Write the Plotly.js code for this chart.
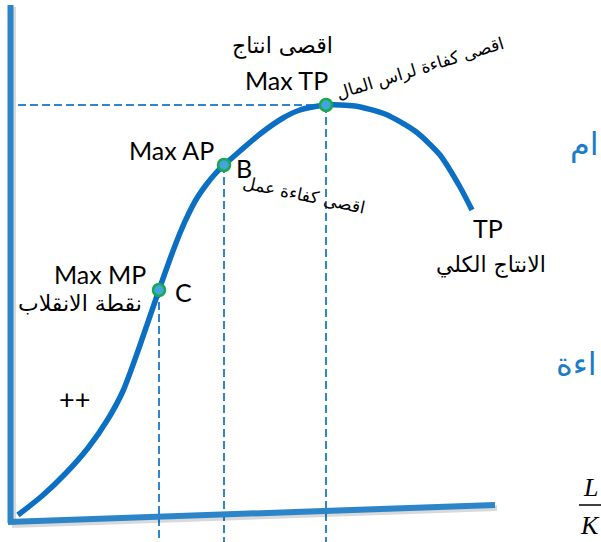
<!DOCTYPE html>
<html>
<head>
<meta charset="utf-8">
<script src="https://cdn.plot.ly/plotly-3.0.1.min.js"></script>
<style>html,body{margin:0;padding:0;background:#fff;}#chart{width:601px;height:542px;}</style>
</head>
<body>
<div id="chart"></div>
<script>
// Total product curve (labour units vs total product)
const laborL = [0.4, 2.8, 5.2, 7.4, 9.4, 10.9, 12.5, 14.5, 15.6, 16.6, 17.4, 18.3, 19.2, 20.1, 21.0, 22.6, 24.6, 26.9, 28.6, 31.2, 34.1, 37.1, 40.1, 42.6, 44.6, 45.8];
const totalTP = [0.3, 2.2, 4.5, 7.0, 9.9, 12.7, 17.0, 22.8, 25.9, 28.5, 30.3, 32.0, 33.3, 34.4, 35.3, 36.7, 38.4, 40.0, 40.8, 41.3, 41.2, 40.4, 38.7, 36.3, 33.1, 30.8];

// Key points: C (max MP / inflection), B (max AP), Max TP
const keyNames = ["C", "B", "Max TP"];
const keyL = [14.5, 21.0, 31.2];
const keyTP = [22.8, 35.3, 41.3];

const AX = "#2c85c9", CURVE = "#0b6fc4", DASH = "#2e86d1";
const FONT = "Lato, 'DejaVu Sans', sans-serif";
const ARFONT = "'DejaVu Sans', sans-serif";

const traces = [];
// dashed verticals from each key point down past the axis
keyL.forEach((x, i) => {
  traces.push({x: [x, x], y: [keyTP[i], -2.4], mode: "lines",
    line: {color: DASH, width: 2, dash: "8px,4px"}, hoverinfo: "skip", showlegend: false});
});
// dashed horizontal at max TP
traces.push({x: [0.4, keyL[2]], y: [keyTP[2], keyTP[2]], mode: "lines",
  line: {color: DASH, width: 2, dash: "8px,4px"}, hoverinfo: "skip", showlegend: false});
// TP curve
traces.push({x: laborL, y: totalTP, mode: "lines",
  line: {color: CURVE, width: 5.5, shape: "spline", smoothing: 0.7}, hoverinfo: "skip", showlegend: false});
// key points
traces.push({x: keyL, y: keyTP, mode: "markers", text: keyNames,
  marker: {size: 12, color: "#41a5e0", line: {color: "#1aa84a", width: 2.5}}, hoverinfo: "text", showlegend: false});

function ann(text, x, y, size, opts) {
  return Object.assign({text: text, x: x, y: y, xref: "x", yref: "y", showarrow: false,
    font: {family: FONT, size: size, color: "#000"}}, opts || {});
}
function arf(size, color) { return {family: ARFONT, size: size, color: color || "#000"}; }

const annotations = [
  ann("اقصى انتاج", 26.8, 47.2, 22, {font: arf(22)}),
  ann("Max TP", 27.2, 43.8, 25),
  ann("اقصى كفاءة لراس المال", 40.6, 45.0, 17, {textangle: -17, font: arf(17)}),
  ann("Max AP", 15.7, 36.8, 25),
  ann("B", 23.0, 35.0, 25),
  ann("اقصى كفاءة عمل", 29.0, 32.3, 17, {textangle: 12, font: arf(17)}),
  ann("Max MP", 8.6, 24.4, 25),
  ann("نقطة الانقلاب", 6.6, 21.5, 22, {font: arf(22)}),
  ann("C", 16.9, 22.6, 25),
  ann("++", 6.0, 12.0, 27),
  ann("TP", 47.4, 29.0, 25),
  ann("الانتاج الكلي", 47.7, 25.3, 22, {font: arf(22)}),
  ann("ام", 55.4, 37.4, 32, {xanchor: "left", font: arf(32, "#1a7dc9")}),
  ann("اءة", 54.0, 15.4, 32, {xanchor: "left", font: arf(32, "#1a7dc9")}),
  ann("<i>L</i>", 57.6, 3.1, 26, {font: {family: "'Liberation Serif', serif", size: 26, color: "#000"}}),
  ann("<i>K</i>", 57.6, -0.7, 26, {font: {family: "'Liberation Serif', serif", size: 26, color: "#000"}})
];

const shapes = [
  // axis shadows
  {type: "line", x0: -0.1, y0: 51.1, x1: -0.1, y1: -0.7, line: {color: "rgba(0,0,0,0.15)", width: 6}},
  {type: "line", x0: -0.2, y0: -0.7, x1: 48.3, y1: 1.0, line: {color: "rgba(0,0,0,0.15)", width: 6}},
  // axes
  {type: "line", x0: -0.35, y0: 51.3, x1: -0.35, y1: -0.5, line: {color: AX, width: 6}},
  {type: "line", x0: -0.6, y0: -0.4, x1: 48.1, y1: 1.3, line: {color: AX, width: 6}},
  // fraction bar L/K
  {type: "line", x0: 56.5, y0: 1.3, x1: 58.8, y1: 1.3, line: {color: "#000", width: 1.5}}
];

const layout = {
  width: 601, height: 542, margin: {l: 0, r: 0, t: 0, b: 0},
  paper_bgcolor: "#fff", plot_bgcolor: "#fff",
  xaxis: {range: [-1.4, 58.7], visible: false, fixedrange: true},
  yaxis: {range: [-2.4, 51.8], visible: false, fixedrange: true},
  annotations: annotations, shapes: shapes, showlegend: false
};

Plotly.newPlot("chart", traces, layout, {staticPlot: true, displayModeBar: false});
</script>
</body>
</html>
